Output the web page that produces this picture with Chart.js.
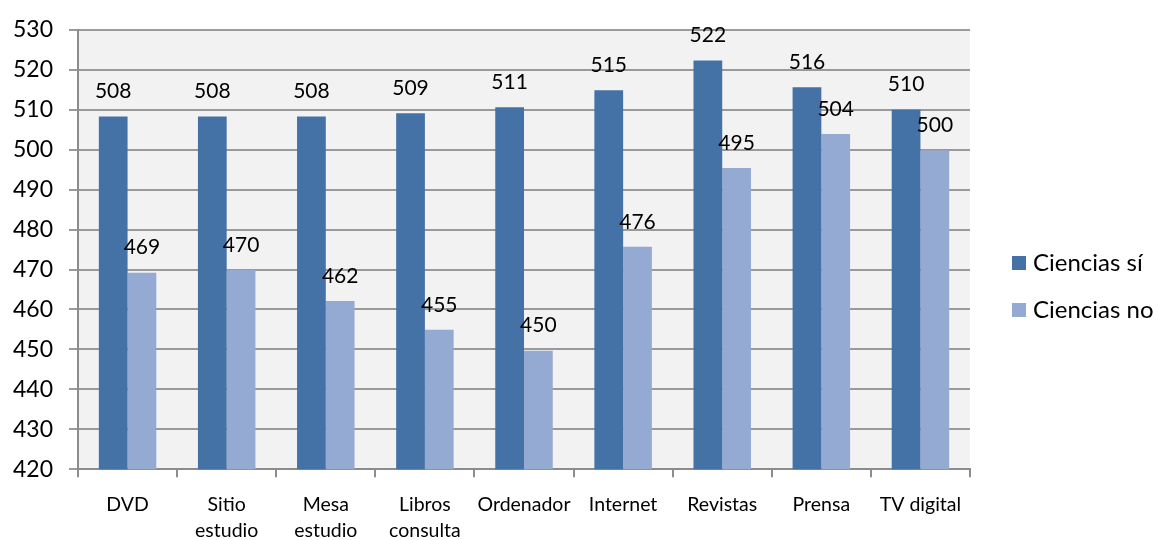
<!DOCTYPE html>
<html lang="es">
<head>
    <meta charset="UTF-8">
    <title>Ciencias sí / no</title>
    <script src="https://cdn.jsdelivr.net/npm/chart.js"></script>
    <style>
        html, body {
            margin: 0;
            padding: 0;
            background: #ffffff;
        }
        .wrap {
            width: 1158px;
            height: 540px;
        }
    </style>
</head>
<body>
    <div class="wrap">
        <canvas id="chart" width="1158" height="540"></canvas>
    </div>

    <script>
        // data
        const categories = ['DVD', ['Sitio', 'estudio'], ['Mesa', 'estudio'], ['Libros', 'consulta'],
            'Ordenador', 'Internet', 'Revistas', 'Prensa', 'TV digital'];
        const cienciasSi = [508.3, 508.3, 508.3, 509.1, 510.6, 514.9, 522.3, 515.6, 510.0];
        const cienciasNo = [469.2, 469.9, 462.1, 454.9, 449.7, 475.7, 495.4, 503.9, 499.8];
        const seriesNames = ['Ciencias sí', 'Ciencias no'];
        const seriesColors = ['#4472a6', '#95aad2'];
        const yMin = 420, yMax = 530, yStep = 10;

        const FONT = 'Lato, "Open Sans", sans-serif';

        // grey plot background
        const plotBg = {
            id: 'plotBg',
            beforeDraw(chart) {
                const { ctx, chartArea: a } = chart;
                ctx.save();
                ctx.fillStyle = '#f2f2f2';
                ctx.fillRect(a.left, a.top, a.right - a.left, a.bottom - a.top);
                ctx.restore();
            }
        };

        // value labels above each bar
        const valueLabels = {
            id: 'valueLabels',
            afterDatasetsDraw(chart) {
                const ctx = chart.ctx;
                ctx.save();
                ctx.font = '21px ' + FONT;
                ctx.fillStyle = '#000';
                ctx.textAlign = 'center';
                ctx.textBaseline = 'middle';
                chart.data.datasets.forEach((ds, i) => {
                    chart.getDatasetMeta(i).data.forEach((bar, j) => {
                        ctx.fillText(Math.round(ds.data[j]), bar.x, bar.y - 25);
                    });
                });
                ctx.restore();
            }
        };

        // legend on the right
        const sideLegend = {
            id: 'sideLegend',
            afterDraw(chart) {
                const ctx = chart.ctx;
                ctx.save();
                ctx.font = '24px ' + FONT;
                ctx.textBaseline = 'middle';
                seriesNames.forEach((name, i) => {
                    const y = 263 + i * 47;
                    ctx.fillStyle = seriesColors[i];
                    ctx.fillRect(1012, y - 7, 14, 14);
                    ctx.fillStyle = '#000';
                    ctx.fillText(name, 1033, y);
                });
                ctx.restore();
            }
        };

        new Chart(document.getElementById('chart'), {
            type: 'bar',
            data: {
                labels: categories,
                datasets: [
                    { label: seriesNames[0], data: cienciasSi, backgroundColor: seriesColors[0] },
                    { label: seriesNames[1], data: cienciasNo, backgroundColor: seriesColors[1] }
                ]
            },
            options: {
                responsive: false,
                animation: false,
                layout: {
                    padding: { left: -3, right: 188, top: 29, bottom: -18 }
                },
                datasets: {
                    bar: { categoryPercentage: 0.58, barPercentage: 1.0 }
                },
                plugins: {
                    legend: { display: false },
                    tooltip: { enabled: false }
                },
                scales: {
                    x: {
                        grid: {
                            drawOnChartArea: false,
                            drawTicks: true,
                            tickLength: 8,
                            color: '#8c8c8c',
                            lineWidth: 2
                        },
                        border: { color: '#8c8c8c', width: 2 },
                        ticks: {
                            color: '#000',
                            font: { family: FONT, size: 19.5, lineHeight: 1.3 },
                            padding: 15,
                            maxRotation: 0,
                            autoSkip: false
                        }
                    },
                    y: {
                        min: yMin,
                        max: yMax,
                        grid: {
                            color: '#9a9a9a',
                            lineWidth: 2,
                            tickLength: 9
                        },
                        border: { color: '#8c8c8c', width: 2 },
                        ticks: {
                            stepSize: yStep,
                            color: '#000',
                            font: { family: FONT, size: 23 },
                            padding: 16
                        }
                    }
                }
            },
            plugins: [plotBg, valueLabels, sideLegend]
        });
    </script>
</body>
</html>
